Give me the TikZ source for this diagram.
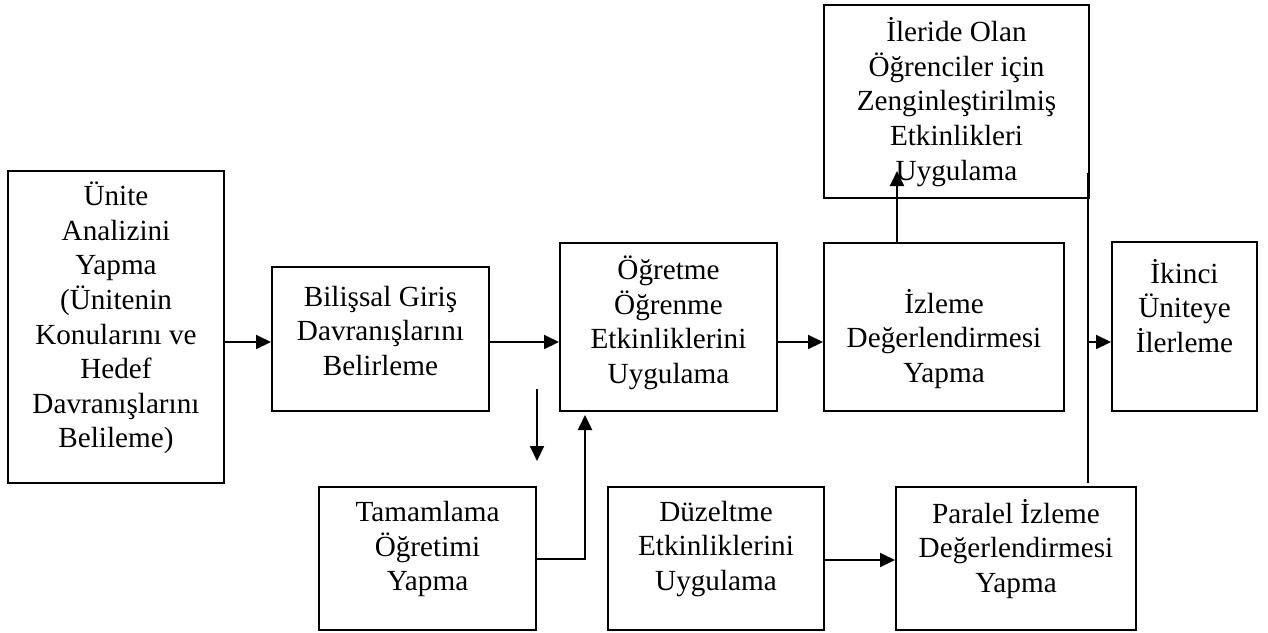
\documentclass[tikz,border=0pt]{standalone}
\usepackage{fontspec}
\setmainfont{Liberation Serif}
\usetikzlibrary{arrows.meta}
\tikzset{
  box/.style={draw, line width=1pt, inner sep=0pt},
  txt/.style={align=center, inner sep=0pt, font=\fontsize{14.6}{17.3}\selectfont},
  arr/.style={line width=1pt, -{Triangle[length=7.5pt,width=7pt]}},
  ln/.style={line width=1pt}
}
\begin{document}
\begin{tikzpicture}[x=0.5pt,y=-0.5pt]
\useasboundingbox (0,0) rectangle (1268,632);
% boxes
\node[box, minimum width=108pt, minimum height=156pt] (b1) at (116,327) {};
\node[box, minimum width=108.5pt, minimum height=72pt] (b2) at (380.5,339) {};
\node[box, minimum width=108.5pt, minimum height=84pt] (b3) at (668.5,327) {};
\node[box, minimum width=120pt, minimum height=84pt] (b4) at (944,327) {};
\node[box, minimum width=132.5pt, minimum height=96.5pt] (b5) at (956.5,101.5) {};
\node[box, minimum width=72.5pt, minimum height=84.5pt] (b6) at (1184.5,326.5) {};
\node[box, minimum width=108.5pt, minimum height=71.5pt] (b7) at (427.5,558.5) {};
\node[box, minimum width=108pt, minimum height=71.5pt] (b8) at (716,558.5) {};
\node[box, minimum width=120pt, minimum height=71.5pt] (b9) at (1016,558.5) {};
% texts
\node[txt] (t1) at (116,318) {Ünite\\Analizini\\Yapma\\(Ünitenin\\Konularını ve\\Hedef\\Davranışlarını\\Belileme)};
\node[txt] (t2) at (380.5,331) {Bilişsal Giriş\\Davranışlarını\\Belirleme};
\node[txt] (t3) at (668.5,323) {Öğretme\\Öğrenme\\Etkinliklerini\\Uygulama};
\node[txt] (t4) at (944,339) {İzleme\\Değerlendirmesi\\Yapma};
\node[txt] (t5) at (956.5,102) {İleride Olan\\Öğrenciler için\\Zenginleştirilmiş\\Etkinlikleri\\Uygulama};
\node[txt] (t6) at (1184.5,306) {İkinci\\Üniteye\\İlerleme};
\node[txt] (t7) at (427.5,549) {Tamamlama\\Öğretimi\\Yapma};
\node[txt] (t8) at (716,549) {Düzeltme\\Etkinliklerini\\Uygulama};
\node[txt] (t9) at (1016,549) {Paralel İzleme\\Değerlendirmesi\\Yapma};
% helper coordinates
\coordinate (row) at (0,342);
\coordinate (row2) at (0,560);
\coordinate (up) at (897,171);
\coordinate (vtop) at (1088,173);
\coordinate (vbot) at (1088,483);
\coordinate (dn1) at (537,389);
\coordinate (dn2) at (537,461);
\coordinate (tj) at (585,559);
% connectors
\draw[arr] (b1.east |- row) -- (b2.west |- row);
\draw[arr] (b2.east |- row) -- (b3.west |- row);
\draw[arr] (b3.east |- row) -- (b4.west |- row);
\draw[arr] (up |- b4.north) -- (up);
\draw[ln] (vtop) -- (vbot);
\draw[arr] (vtop |- row) -- (b6.west |- row);
\draw[arr] (dn1) -- (dn2);
\draw[arr, shorten >=1.5pt] (b7.east |- tj) -- (tj) -- (tj |- b3.south);
\draw[arr] (b8.east |- row2) -- (b9.west |- row2);
\end{tikzpicture}
\end{document}
